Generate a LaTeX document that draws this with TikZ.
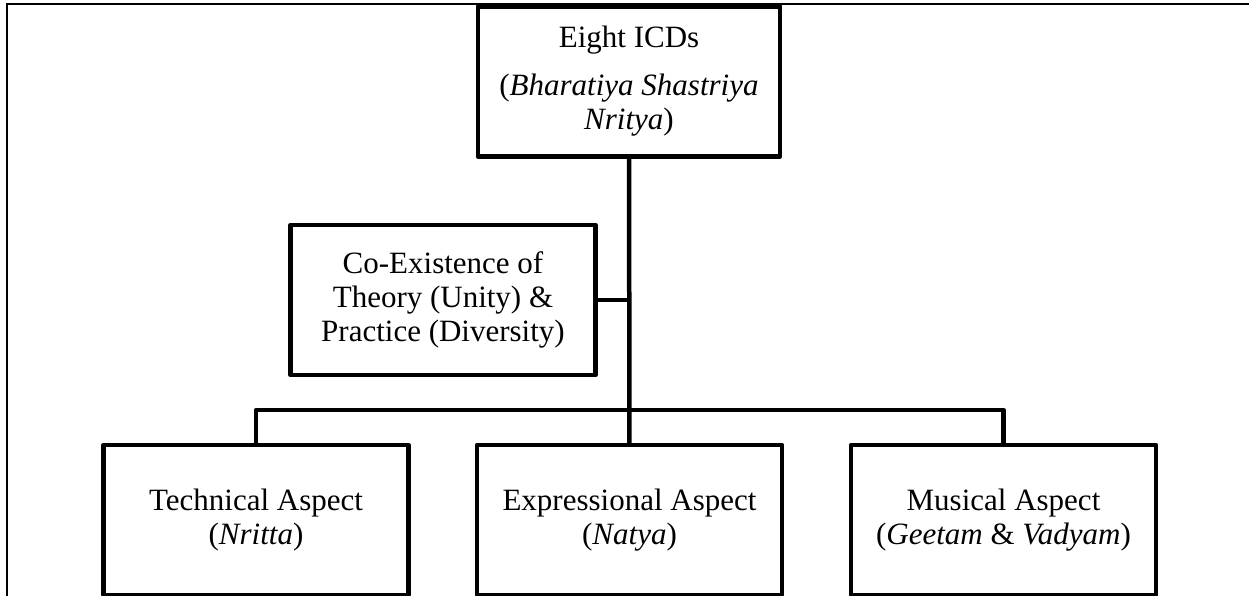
\documentclass[tikz,border=0pt]{standalone}
\usepackage{fontspec}
\setmainfont{Liberation Serif}
\usepackage{tikz}
\usetikzlibrary{positioning}

\begin{document}
\begin{tikzpicture}[x=1pt, y=-1pt,
    every node/.append style={draw, line width=4.5pt, line join=round, align=center,
                              font=\fontsize{31}{34}\selectfont},
    aspect/.style={minimum width=305pt, minimum height=150pt, inner sep=0pt},
    link/.style={line width=4.5pt, line join=round}]
  \useasboundingbox (0,0) rectangle (1249,596);
  % frame (only top and left are visible)
  \draw[line width=1.6pt] (7,596) -- (7,4) -- (1249,4);

  \node (icds) [aspect, minimum width=302pt] at (629, 81.5)
     {Eight ICDs\\[14pt] (\textit{Bharatiya Shastriya}\\ \textit{Nritya})};
  \node (coexist) [aspect] at (443, 300)
     {Co-Existence of\\ Theory (Unity) \&\\ Practice (Diversity)};

  \node (technical) [aspect] at (256, 520)
     {Technical Aspect\\ (\textit{Nritta})};
  \node (expressional) [aspect] at (629.5, 520)
     {Expressional Aspect\\ (\textit{Natya})};
  \node (musical) [aspect] at (1003.5, 520)
     {Musical Aspect\\ (\textit{Geetam} \& \textit{Vadyam})};

  \coordinate (bus) at (629.5, 410);

  \draw[link] (icds) -- (expressional);
  \draw[link] (coexist.east) -- (coexist.east -| icds.south);
  \draw[link] (technical.north) |- (bus) -| (musical.north);
\end{tikzpicture}
\end{document}
